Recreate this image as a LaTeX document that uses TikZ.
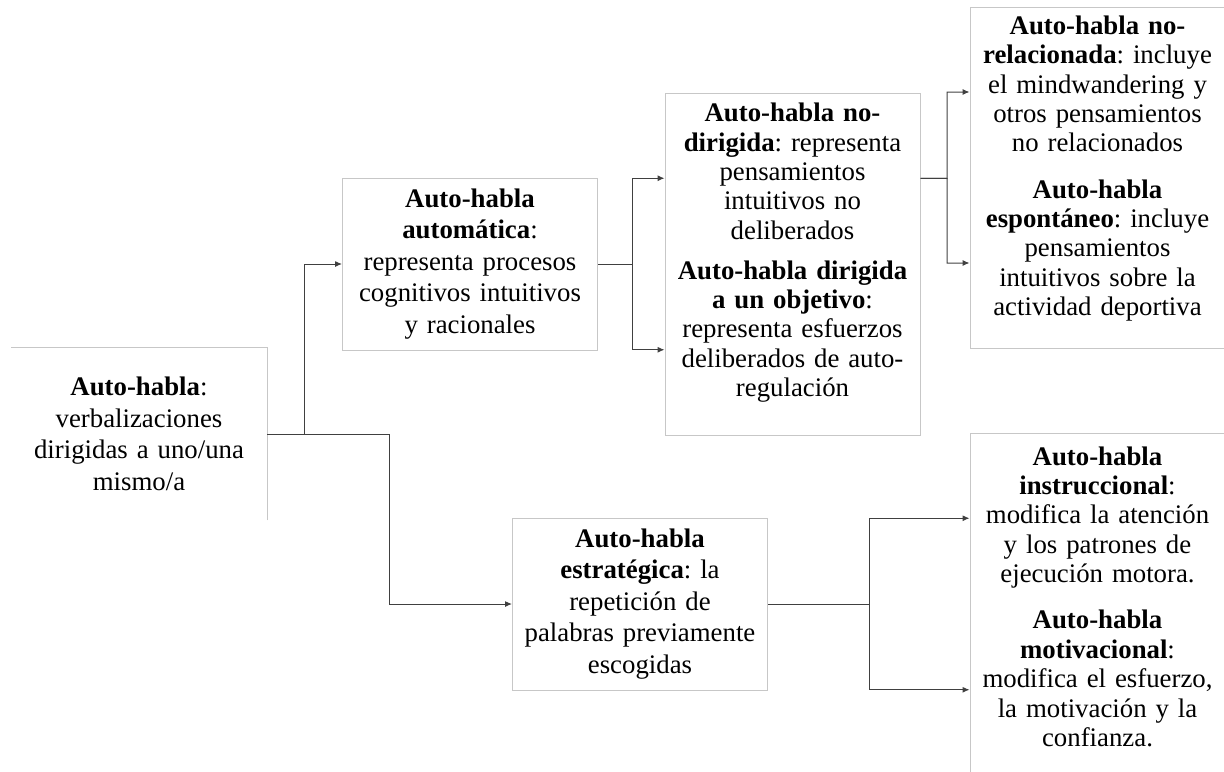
\documentclass[tikz,border=0pt]{standalone}
\usepackage{fontspec}
\setmainfont{Liberation Serif}
\usetikzlibrary{arrows.meta,calc}
\definecolor{framegray}{gray}{0.78}
\definecolor{wiregray}{gray}{0.25}
\tikzset{
  txt/.style={align=center,text width=125pt,inner sep=1pt,minimum width=127.5pt,font=\fontsize{13.4}{15.75}\selectfont\frenchspacing},
  txtb/.style={txt,anchor=base,font=\fontsize{13.4}{14.7}\selectfont\frenchspacing},
  box/.style={txt,draw=framegray,line width=0.5pt,minimum height=86pt},
  boxedge/.style={draw=framegray,line width=0.5pt,inner sep=0pt,minimum width=127.5pt},
  wire/.style={draw=wiregray,line width=0.5pt},
}
\begin{document}
\begin{tikzpicture}[x=0.5pt,y=-0.5pt,>={Latex[length=3.5pt,width=3pt]}]
\useasboundingbox (0,0) rectangle (1224,771);
\clip (0,0) rectangle (1224,771);
% first level
\node[txt,minimum width=128pt,minimum height=86pt] (b1) at (139,434) {\textbf{Auto-habla}:\\verbalizaciones\\dirigidas a uno/una\\mismo/a};
\draw[wire,draw=framegray] (b1.south east) |- (b1.north west);
% second level
\node[box] (b2) at (470,264) {\textbf{Auto-habla}\\\textbf{automática}:\\representa procesos\\cognitivos intuitivos\\y racionales};
\node[box] (b3) at (640,604) {\textbf{Auto-habla}\\\textbf{estratégica}: la\\repetición de\\palabras previamente\\escogidas};
% third level
\node[boxedge,minimum height=171pt] (b4) at (792.5,264) {};
\node[txtb] (t4) at (792.5,121.7) {\textbf{Auto-habla no-}\\\textbf{dirigida}: representa\\pensamientos\\intuitivos no\\deliberados\\[5.2pt]
  \textbf{Auto-habla dirigida}\\\textbf{a un objetivo}:\\representa esfuerzos\\deliberados de auto-\\regulación};
\node[boxedge,minimum height=170.5pt] (b5) at (1097.5,177.5) {};
\node[txtb] (t5) at (1097.5,34.3) {\textbf{Auto-habla no-}\\\textbf{relacionada}: incluye\\el mindwandering y\\otros pensamientos\\no relacionados\\[8.4pt]
  \textbf{Auto-habla}\\\textbf{espontáneo}: incluye\\pensamientos\\intuitivos sobre la\\actividad deportiva};
\node[boxedge,minimum height=171pt] (b6) at (1097.5,604) {};
\node[txtb] (t6) at (1097.5,465) {\textbf{Auto-habla}\\\textbf{instruccional}:\\modifica la atención\\y los patrones de\\ejecución motora.\\[8.4pt]
  \textbf{Auto-habla}\\\textbf{motivacional}:\\modifica el esfuerzo,\\la motivación y la\\confianza.};
% connectors
\coordinate (j1) at (304,434);
\coordinate (j2) at (389,434);
\coordinate (j3) at (632,264);
\coordinate (j5) at (947,178.5);
\coordinate (j6) at (869,604);
\draw[wire,->] (b1.east) -- (j1) |- (b2.west);
\draw[wire,->] (b1.east) -- (j2) |- (b3.west);
\draw[wire,->] (b2.east) -- (j3) |- ($(b4.north west)!0.25!(b4.south west)$);
\draw[wire,->] (b2.east) -- (j3) |- ($(b4.north west)!0.75!(b4.south west)$);
\draw[wire,->] ($(b4.north east)!0.25!(b4.south east)$) -- (j5) |- ($(b5.north west)!0.25!(b5.south west)$);
\draw[wire,->] ($(b4.north east)!0.25!(b4.south east)$) -- (j5) |- ($(b5.north west)!0.75!(b5.south west)$);
\draw[wire,->] (b3.east) -- (j6) |- ($(b6.north west)!0.25!(b6.south west)$);
\draw[wire,->] (b3.east) -- (j6) |- ($(b6.north west)!0.75!(b6.south west)$);
\end{tikzpicture}
\end{document}
